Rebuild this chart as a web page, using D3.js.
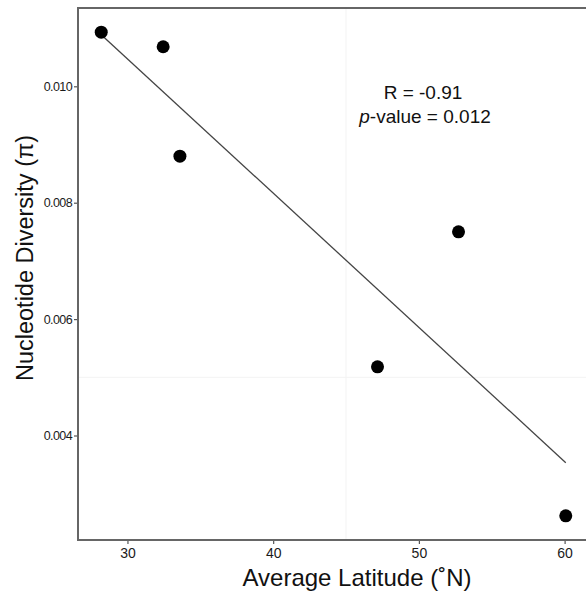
<!DOCTYPE html>
<html>
<head>
<meta charset="utf-8">
<script src="https://cdn.jsdelivr.net/npm/d3@7"></script>
<style>
  body { margin: 0; background: #fff; }
  text { font-family: "Liberation Sans", Arial, sans-serif; }
</style>
</head>
<body>
<script>
// data
let latitude = [28.2, 32.45, 33.6, 47.16, 52.72, 60.08];
let diversity = [0.01093, 0.01068, 0.0088, 0.00518, 0.0075, 0.00262];
let xTicks = [30, 40, 50, 60];
let yTicks = [0.004, 0.006, 0.008, 0.010];
let statLines = ["R = -0.91", "p-value = 0.012"];

let width = 586, height = 592;
let margin = { left: 78, top: 8, right: -3, bottom: 52 };

let svg = d3
  .select("body")
  .append("svg")
  .attr("width", width)
  .attr("height", height);

// ggplot-style 5% expansion
let xExt = d3.extent(latitude), yExt = d3.extent(diversity);
let xPad = (xExt[1] - xExt[0]) * 0.05, yPad = (yExt[1] - yExt[0]) * 0.05;

let x = d3
  .scaleLinear()
  .domain([xExt[0] - xPad, xExt[1] + xPad])
  .range([margin.left, width - margin.right]);
let y = d3
  .scaleLinear()
  .domain([yExt[0] - yPad, yExt[1] + yPad])
  .range([height - margin.bottom, margin.top]);

// faint leftover grid lines
svg.append("line")
  .attr("x1", x(45)).attr("x2", x(45))
  .attr("y1", y.range()[1]).attr("y2", y.range()[0])
  .style("stroke", "#f3f3f3");
svg.append("line")
  .attr("x1", x.range()[0]).attr("x2", x.range()[1])
  .attr("y1", y(0.005)).attr("y2", y(0.005))
  .style("stroke", "#f3f3f3");

// least squares fit
let mx = d3.mean(latitude), my = d3.mean(diversity);
let sxy = d3.sum(latitude, (d, i) => (d - mx) * (diversity[i] - my));
let sxx = d3.sum(latitude, d => (d - mx) * (d - mx));
let slope = sxy / sxx, icpt = my - slope * mx;

svg.append("line")
  .attr("x1", x(xExt[0])).attr("y1", y(icpt + slope * xExt[0]))
  .attr("x2", x(xExt[1])).attr("y2", y(icpt + slope * xExt[1]))
  .style("stroke", "#444")
  .style("stroke-width", 1.3);

// points
svg.append("g")
  .selectAll("circle")
  .data(latitude)
  .enter()
  .append("circle")
  .attr("cx", d => x(d))
  .attr("cy", (d, i) => y(diversity[i]))
  .attr("r", 6.5)
  .style("fill", "#000");

// axes
let xAxis = svg.append("g")
  .attr("transform", `translate(0, ${height - margin.bottom})`)
  .call(d3.axisBottom(x).tickValues(xTicks).tickSize(4).tickPadding(4).tickFormat(d3.format("d")));
let yAxis = svg.append("g")
  .attr("transform", `translate(${margin.left}, 0)`)
  .call(d3.axisLeft(y).tickValues(yTicks).tickSize(4).tickPadding(2).tickFormat(d3.format(".3f")));

[xAxis, yAxis].forEach(a => {
  a.select(".domain").remove();
  a.selectAll(".tick line").style("stroke", "#555").style("stroke-width", 1.2);
  a.selectAll(".tick text").style("fill", "#1a1a1a").style("font-family", "Liberation Sans, Arial, sans-serif");
});
xAxis.selectAll(".tick text").style("font-size", "14px");
yAxis.selectAll(".tick text").style("font-size", "12.5px").style("letter-spacing", "-0.6px");

// panel border (left, top, bottom)
let x0 = x.range()[0], x1 = x.range()[1], y0 = y.range()[0], y1 = y.range()[1];
svg.append("path")
  .attr("d", `M${x1},${y1}H${x0}V${y0}H${x1}`)
  .style("fill", "none")
  .style("stroke", "#666")
  .style("stroke-width", 2);

// axis titles
svg.append("text")
  .attr("x", 357)
  .attr("y", 586)
  .attr("text-anchor", "middle")
  .style("font-size", "24px")
  .style("fill", "#111")
  .text("Average Latitude (˚N)");

svg.append("text")
  .attr("transform", "translate(33, 258) rotate(-90)")
  .attr("text-anchor", "middle")
  .style("font-size", "23.5px")
  .style("fill", "#111")
  .text("Nucleotide Diversity (π)");

// stats annotation
svg.append("text")
  .attr("x", 423)
  .attr("y", 99)
  .attr("text-anchor", "middle")
  .style("font-size", "19px")
  .style("fill", "#111")
  .text(statLines[0]);

let pv = svg.append("text")
  .attr("x", 425)
  .attr("y", 123)
  .attr("text-anchor", "middle")
  .style("font-size", "19px")
  .style("fill", "#111");
pv.append("tspan").style("font-style", "italic").text(statLines[1].slice(0, 1));
pv.append("tspan").text(statLines[1].slice(1));
</script>
</body>
</html>
